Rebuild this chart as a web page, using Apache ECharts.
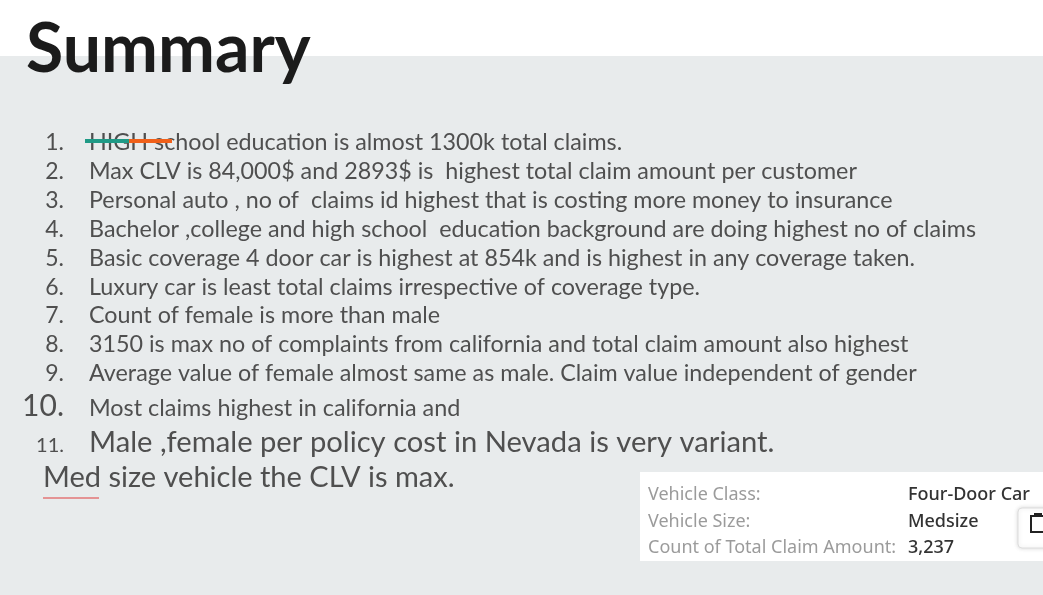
<!DOCTYPE html>
<html>
<head>
<meta charset="utf-8">
<script src="https://cdn.jsdelivr.net/npm/echarts@6/dist/echarts.min.js"></script>
<style>
  html, body { margin: 0; padding: 0; background: #fff; }
  #chart { width: 1043px; height: 595px; }
</style>
</head>
<body>
<div id="chart"></div>
<script>
// summary slide text
var titleText = 'Summary';
var itemNumbers = ['1.', '2.', '3.', '4.', '5.', '6.', '7.', '8.', '9.', '10.', '11.'];
var itemTexts = [
  'HIGH school education is almost 1300k total claims.',
  'Max CLV is 84,000$ and 2893$ is  highest total claim amount per customer',
  'Personal auto , no of  claims id highest that is costing more money to insurance',
  'Bachelor ,college and high school  education background are doing highest no of claims',
  'Basic coverage 4 door car is highest at 854k and is highest in any coverage taken.',
  'Luxury car is least total claims irrespective of coverage type.',
  'Count of female is more than male',
  '3150 is max no of complaints from california and total claim amount also highest',
  'Average value of female almost same as male. Claim value independent of gender',
  'Most claims highest in california and',
  'Male ,female per policy cost in Nevada is very variant.'
];
var trailingLine = 'Med size vehicle the CLV is max.';

// hover tooltip left on the slide
var tipLabels = ['Vehicle Class:', 'Vehicle Size:', 'Count of Total Claim Amount:'];
var tipValues = ['Four-Door Car', 'Medsize', '3,237'];

var FONT = 'Lato, "Open Sans", sans-serif';
var TIP_FONT = '"Noto Sans", "Open Sans", sans-serif';
var TEXT_COLOR = '#4f4f4f';

function initSummary() {
  var chart = echarts.init(document.getElementById('chart'), null, { renderer: 'canvas' });
  var g = [];

  // backgrounds
  g.push({ type: 'rect', shape: { x: 0, y: 0, width: 1043, height: 56 }, style: { fill: '#ffffff' }, silent: true });
  g.push({ type: 'rect', shape: { x: 0, y: 56, width: 1043, height: 539 }, style: { fill: '#e8ebec' }, silent: true });

  // title
  g.push({
    type: 'text', x: 26, y: 84,
    style: { text: titleText, font: 'bold 68px ' + FONT, fill: '#1b1b1b', textVerticalAlign: 'bottom' }
  });

  // list rows (baselines)
  var baselines = [149, 178, 207, 236, 265, 294, 322, 351, 380, 415, 451];
  itemTexts.forEach(function (t, i) {
    var numSize = 23, txtSize = 23.3;
    if (i === 9) { numSize = 30; txtSize = 23.4; }
    if (i === 10) { numSize = 20; txtSize = 29.2; }
    g.push({
      type: 'text', x: 64, y: baselines[i] + numSize * 0.22,
      style: { text: itemNumbers[i], font: numSize + 'px ' + FONT, fill: TEXT_COLOR, textAlign: 'right', textVerticalAlign: 'bottom' }
    });
    g.push({
      type: 'text', x: 89, y: baselines[i] + txtSize * 0.22,
      style: { text: t, font: txtSize + 'px ' + FONT, fill: TEXT_COLOR, textVerticalAlign: 'bottom' }
    });
  });
  g.push({
    type: 'text', x: 43, y: 486 + 29 * 0.22,
    style: { text: trailingLine, font: '29px ' + FONT, fill: TEXT_COLOR, textVerticalAlign: 'bottom' }
  });

  // ink strike through "HIGH"
  g.push({ type: 'line', shape: { x1: 85, y1: 141, x2: 131, y2: 141 }, style: { stroke: '#1f9a86', lineWidth: 4 } });
  g.push({ type: 'line', shape: { x1: 129, y1: 141, x2: 172, y2: 141 }, style: { stroke: '#f0601a', lineWidth: 4 } });

  // spell-check squiggle under "Med"
  var pts = [];
  for (var x = 43; x <= 100; x += 2) { pts.push([x, (x / 2) % 2 === 0 ? 495 : 498]); }
  g.push({ type: 'polyline', shape: { points: pts }, style: { stroke: '#e03c3c', lineWidth: 1.2, fill: null } });

  // tooltip box
  g.push({ type: 'rect', shape: { x: 640, y: 472, width: 403, height: 89 }, style: { fill: '#ffffff' } });
  var tipBase = [499, 526, 552];
  tipLabels.forEach(function (l, i) {
    g.push({
      type: 'text', x: 648, y: tipBase[i] + 5,
      style: { text: l, font: '18px ' + TIP_FONT, fill: '#9b9b9b', textVerticalAlign: 'bottom' }
    });
    g.push({
      type: 'text', x: 908, y: tipBase[i] + 5,
      style: { text: tipValues[i], font: '500 18px ' + TIP_FONT, fill: '#333333', textVerticalAlign: 'bottom' }
    });
  });

  // small clipboard button
  g.push({
    type: 'rect', shape: { x: 1018, y: 508, width: 40, height: 40, r: 4 },
    style: { fill: '#ffffff', stroke: '#dddddd', lineWidth: 1, shadowBlur: 4, shadowColor: 'rgba(0,0,0,0.15)' }
  });
  g.push({ type: 'rect', shape: { x: 1031, y: 516, width: 14, height: 16 }, style: { fill: null, stroke: '#222', lineWidth: 2 } });
  g.push({ type: 'rect', shape: { x: 1034, y: 513, width: 8, height: 4 }, style: { fill: '#222' } });

  chart.setOption({
    animation: false,
    backgroundColor: '#ffffff',
    graphic: { elements: g }
  });
}

initSummary();
</script>
</body>
</html>
